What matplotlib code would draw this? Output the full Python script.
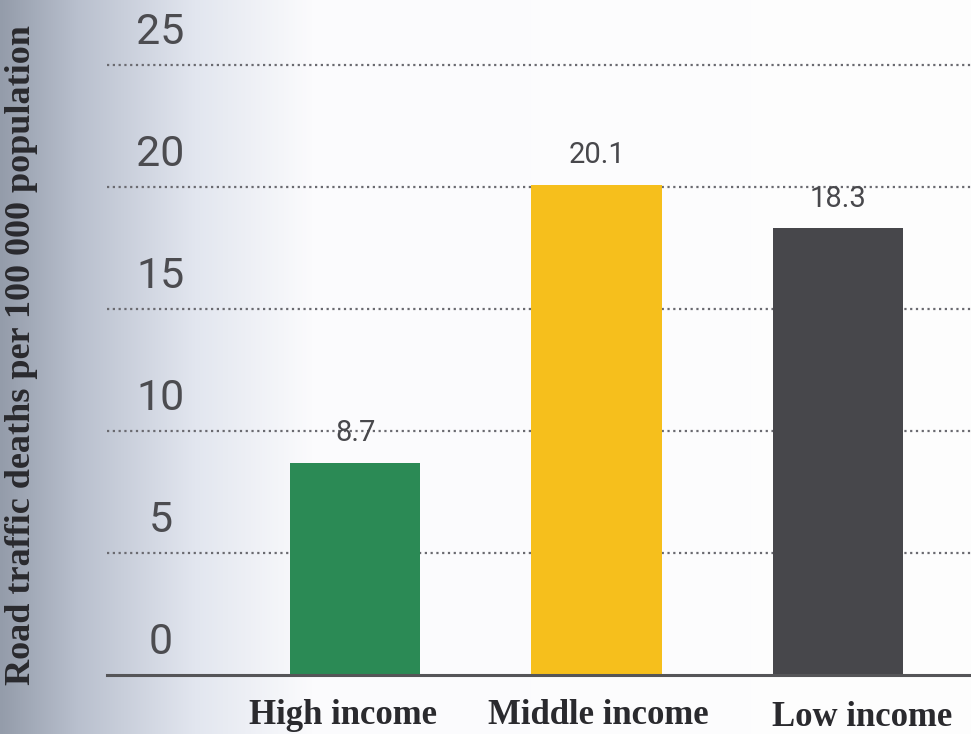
import numpy as np
import matplotlib
matplotlib.use("Agg")
import matplotlib.pyplot as plt
import matplotlib.transforms as mtransforms

categories = ["High income", "Middle income", "Low income"]
values = [8.7, 20.1, 18.3]
yticks = [0, 5, 10, 15, 20, 25]
ylabel = "Road traffic deaths per 100 000 population"
colors = ["#2b8a55", "#f6bf1c", "#47474b"]

W, H = 971, 734
fig = plt.figure(figsize=(W / 100, H / 100), dpi=100)

# scanned-page shading background
bg = fig.add_axes([0, 0, 1, 1], zorder=-10)
xs = np.linspace(0, 1, 500)
stops_x = [0.0, 0.08, 0.2, 0.32, 1.0]
stops_c = np.array([[148, 156, 170], [185, 192, 206], [226, 230, 239], [251, 251, 253], [254, 254, 254]]) / 255.0
grad = np.stack([np.interp(xs, stops_x, stops_c[:, k]) for k in range(3)], axis=-1)
bg.imshow(grad[None, :, :], aspect="auto", extent=[0, 1, 0, 1])
bg.set_axis_off()

x0, x1 = 107, 971
ytop, ybase = 65, 675
ax = fig.add_axes([x0 / W, 1 - ybase / H, (x1 - x0) / W, (ybase - ytop) / H])
ax.set_facecolor("none")

pos = np.arange(len(categories))
ax.bar(pos, values, width=0.54, color=colors, zorder=3)
ax.set_ylim(0, 25)
ax.set_xlim(-1.027, 2.55)

for t in yticks[1:]:
    ax.axhline(t, color="#6a6a70", lw=1.6, ls=(0, (1, 1.6)), zorder=1, clip_on=False)
ax.axhline(0, color="#555558", lw=2.2, zorder=4, clip_on=False)

for s in ax.spines.values():
    s.set_visible(False)
ax.set_xticks([])
ax.set_yticks([])

numfam = ["Roboto", "DejaVu Sans"]
trans = mtransforms.blended_transform_factory(ax.transAxes, ax.transData)
for t in yticks:
    ax.text(0.062, t + 1.35, str(t), transform=trans, ha="center", va="center",
            fontsize=31, fontweight="normal", color="#4c4c50", family=numfam, clip_on=False)

for p, v in zip(pos, values):
    ax.text(p, v + 1.2, f"{v}", ha="center", va="center", fontsize=21,
            fontweight="normal", color="#48484c", family=numfam, zorder=5)

serif = ["Liberation Serif", "DejaVu Serif"]
label_x = [343, 598, 862]
label_y = [716, 716, 718]
for c, lx, ly in zip(categories, label_x, label_y):
    fig.text(lx / W, 1 - ly / H, c, ha="center", va="center", fontsize=25,
             fontweight="bold", family=serif, color="#2a2a2e")

fig.text(22 / W, 1 - 355 / H, ylabel, rotation=90, ha="center", va="center",
         fontsize=26, fontweight="bold", family=serif, color="#2a2a2e")

fig.savefig("out.png", dpi=100)
